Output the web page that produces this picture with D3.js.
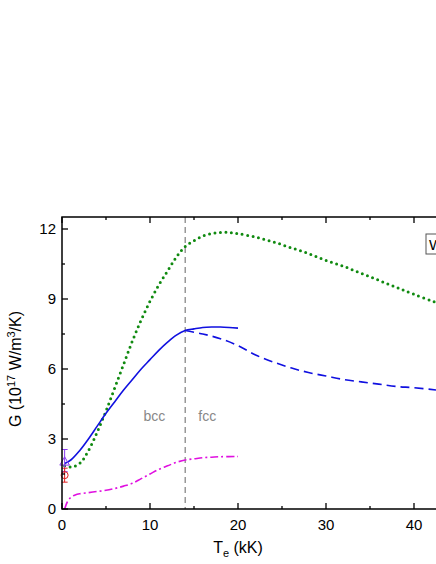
<!DOCTYPE html><html><head><script src="https://d3js.org/d3.v7.min.js"></script>
<style>body{margin:0;background:#fff}text{font-family:Arial,"Liberation Sans",sans-serif}</style></head><body>
<script>
const xTicks=[0,10,20,30,40], yTicks=[0,3,6,9,12];
const greenDotted=[[0.3,1.85],[1,1.8],[2,1.95],[3,2.5],[4,3.3],[5,4.2],[6,5.2],[7,6.2],[8,7.2],[9,8.1],[10,8.9],[11,9.6],[12,10.2],[13,10.8],[14,11.25],[15,11.5],[16,11.7],[17,11.8],[18,11.85],[19,11.85],[20,11.8],[22,11.65],[24,11.45],[26,11.2],[28,10.95],[30,10.65],[32,10.4],[34,10.1],[36,9.8],[38,9.5],[40,9.2],[42.5,8.85]];
const blueSolid=[[0.3,1.95],[1,2.1],[2,2.5],[3,3.0],[4,3.55],[5,4.1],[6,4.6],[7,5.1],[8,5.55],[9,6.0],[10,6.4],[11,6.8],[12,7.15],[13,7.45],[14,7.65],[15,7.72],[16,7.78],[17,7.8],[18,7.8],[19,7.78],[20,7.75]];
const blueDashed=[[14,7.65],[16,7.5],[18,7.3],[20,7.0],[22,6.6],[24,6.3],[26,6.05],[28,5.85],[30,5.7],[32,5.55],[34,5.45],[36,5.35],[38,5.25],[40,5.2],[42.5,5.1]];
const magenta=[[0.3,0],[0.6,0.3],[1,0.5],[1.5,0.6],[2,0.65],[3,0.7],[4,0.75],[5,0.8],[6,0.88],[7,0.98],[8,1.1],[9,1.3],[10,1.5],[11,1.7],[12,1.85],[13,2.0],[14,2.1],[15,2.15],[16,2.2],[17,2.22],[18,2.24],[20,2.25]];
const triPt={x:0.3,y:2.0,lo:1.6,hi:2.55}, circPt={x:0.3,y:1.45,lo:1.15,hi:1.75};
const W=436,H=564;
const svg=d3.select("body").append("svg").attr("width",W).attr("height",H);
const x=d3.scaleLinear().domain([0,10]).range([62,150]);
const y=d3.scaleLinear().domain([0,12]).range([509,229]);
const yT=y.invert(217);
const g=svg.append("g");
const line=d3.line().x(d=>x(d[0])).y(d=>y(d[1])).curve(d3.curveCatmullRom);
g.append("line").attr("x1",x(14)).attr("x2",x(14)).attr("y1",y(yT)).attr("y2",y(0)).attr("stroke","#888").attr("stroke-width",1.3).attr("stroke-dasharray","6,4");
g.append("path").attr("d",line(greenDotted)).attr("fill","none").attr("stroke","#108a10").attr("stroke-width",3).attr("stroke-dasharray","0,5.5").attr("stroke-linecap","round");
g.append("path").attr("d",line(blueSolid)).attr("fill","none").attr("stroke","#1010e0").attr("stroke-width",1.6);
g.append("path").attr("d",line(blueDashed)).attr("fill","none").attr("stroke","#1010e0").attr("stroke-width",1.6).attr("stroke-dasharray","9,5");
g.append("path").attr("d",line(magenta)).attr("fill","none").attr("stroke","#e010e0").attr("stroke-width",1.6).attr("stroke-dasharray","8,3,2,3");
[[triPt,"#8a3cf0"],[circPt,"#e02020"]].forEach(([p,c])=>{
 g.append("line").attr("x1",x(p.x)).attr("x2",x(p.x)).attr("y1",y(p.lo)).attr("y2",y(p.hi)).attr("stroke",c);
 [p.lo,p.hi].forEach(v=>g.append("line").attr("x1",x(p.x)-3).attr("x2",x(p.x)+3).attr("y1",y(v)).attr("y2",y(v)).attr("stroke",c));
});
g.append("path").attr("d",d3.symbol(d3.symbolTriangle,40)()).attr("transform",`translate(${x(triPt.x)},${y(triPt.y)})`).attr("fill","none").attr("stroke","#8a3cf0");
g.append("circle").attr("cx",x(circPt.x)).attr("cy",y(circPt.y)).attr("r",3.5).attr("fill","none").attr("stroke","#e02020");
g.append("text").attr("x",x(10.5)).attr("y",y(4)+5).attr("text-anchor","middle").attr("fill","#888").attr("font-size",14).text("bcc");
g.append("text").attr("x",x(16.5)).attr("y",y(4)+5).attr("text-anchor","middle").attr("fill","#888").attr("font-size",14).text("fcc");
svg.append("path").attr("d",`M${W+5},${y(yT)}H${x(0)}V${y(0)}H${W+5}`).attr("fill","none").attr("stroke","#000").attr("stroke-width",1.5);
const xt=d3.range(0,45,5), yt=d3.range(0,12.5,1.5);
xt.forEach(v=>{const L=v%10===0?6:3;
 svg.append("line").attr("x1",x(v)).attr("x2",x(v)).attr("y1",y(0)).attr("y2",y(0)-L).attr("stroke","#000").attr("stroke-width",1.3);
 svg.append("line").attr("x1",x(v)).attr("x2",x(v)).attr("y1",y(yT)).attr("y2",y(yT)+L).attr("stroke","#000").attr("stroke-width",1.3);});
yt.forEach(v=>{const L=v%3===0?6:3;
 svg.append("line").attr("x1",x(0)).attr("x2",x(0)+L).attr("y1",y(v)).attr("y2",y(v)).attr("stroke","#000").attr("stroke-width",1.3);});
xTicks.forEach(v=>svg.append("text").attr("x",x(v)).attr("y",y(0)+21).attr("text-anchor","middle").attr("font-size",15).text(v));
yTicks.forEach(v=>svg.append("text").attr("x",x(0)-6).attr("y",y(v)+5).attr("text-anchor","end").attr("font-size",15).text(v));
const xl=svg.append("text").attr("x",x(20)).attr("y",553).attr("text-anchor","middle").attr("font-size",16);
xl.append("tspan").text("T");xl.append("tspan").attr("font-size",11).attr("dy",4).text("e");xl.append("tspan").attr("dy",-4).text(" (kK)");
const yl=svg.append("text").attr("transform",`translate(21,${y(6)}) rotate(-90)`).attr("text-anchor","middle").attr("font-size",16);
yl.append("tspan").text("G (10");yl.append("tspan").attr("font-size",11).attr("dy",-6).text("17");yl.append("tspan").attr("dy",6).text(" W/m");
yl.append("tspan").attr("font-size",11).attr("dy",-6).text("3");yl.append("tspan").attr("dy",6).text("/K)");
svg.append("rect").attr("x",426).attr("y",234).attr("width",30).attr("height",20).attr("fill","#fff").attr("stroke","#555");
svg.append("text").attr("x",429).attr("y",250).attr("font-size",15).text("W");
</script></body></html>
